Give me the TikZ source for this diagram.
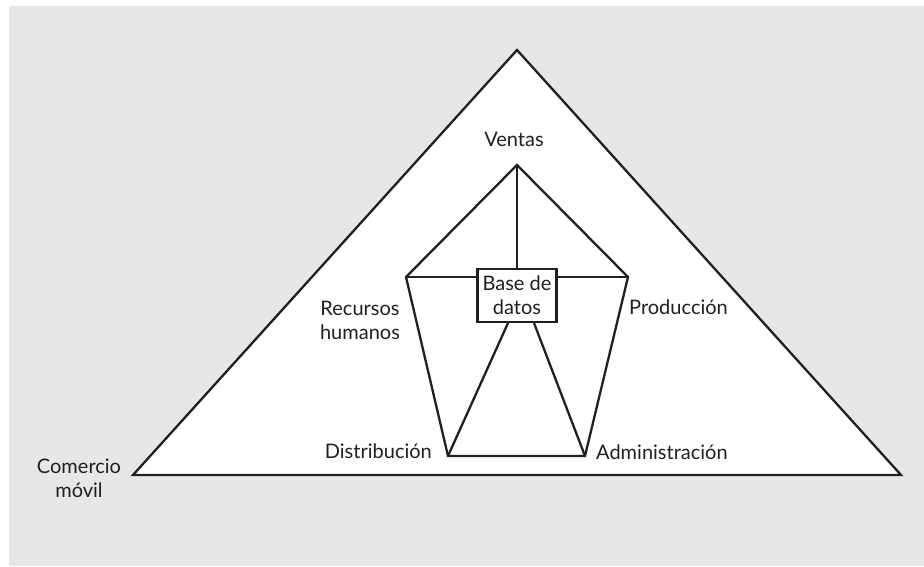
\documentclass[tikz,border=0pt]{standalone}
\usepackage{fontspec}
\setmainfont{Lato}
\definecolor{bggray}{HTML}{E6E7E8}
\definecolor{ink}{HTML}{231F20}
\begin{document}
\begin{tikzpicture}[x=1pt,y=-1pt,
  line/.style={draw=ink,line width=2.3pt,line join=miter},
  lbl/.style={text=ink,font=\fontsize{20}{24}\selectfont,inner sep=0pt,align=center},
  dbbox/.style={draw=ink,line width=2.3pt,fill=white,minimum width=79pt,minimum height=53pt,inner sep=0pt,align=center,text=ink,font=\fontsize{20}{24}\selectfont}]
\useasboundingbox (0,0) rectangle (924,567);
\fill[bggray] (9,6) rectangle (924,566);
% big triangle
\coordinate (tl) at (133,475);
\coordinate (tt) at (517,50);
\coordinate (tr) at (901,475);
\filldraw[fill=white,line] (tl) -- (tt) -- (tr) -- cycle;
% inner pentagon vertices
\coordinate (pv) at (517,165);
\coordinate (pl) at (406,277);
\coordinate (pr) at (628,277);
\coordinate (pbl) at (448,456);
\coordinate (pbr) at (585,456);
\node[dbbox] (db) at (517,295.5) {Base de\\datos};
\coordinate (dbl) at (508,323);
\coordinate (dbr) at (534,323);
\draw[line] (pv) -- (pl) -- (pbl) -- (pbr) -- (pr) -- cycle;
\draw[line] (pv) -- (db.north);
\draw[line] (pl) -- (db.west |- pl);
\draw[line] (pr) -- (db.east |- pr);
\draw[line] (dbl) -- (pbl);
\draw[line] (dbr) -- (pbr);
% labels
\node[lbl] (ventas) at (514,139) {Ventas};
\node[lbl] (rh) at (360,320) {Recursos\\humanos};
\node[lbl,anchor=east] (dist) at (432,451) {Distribución};
\node[lbl,anchor=west] (prod) at (629,307) {Producción};
\node[lbl,anchor=west] (adm) at (596,452) {Administración};
\node[lbl] (cm) at (79,478) {Comercio\\móvil};
\end{tikzpicture}
\end{document}
